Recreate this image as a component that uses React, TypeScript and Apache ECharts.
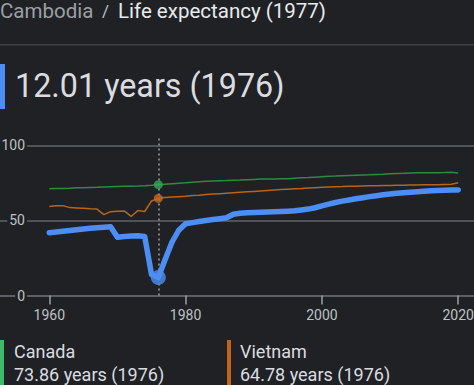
import React, { useEffect, useRef } from "react";
import * as echarts from "echarts";

const years: number[] = Array.from({ length: 61 }, (_, i) => 1960 + i);

const cambodia: number[] = [
  41.8, 42.3, 42.8, 43.3, 43.8, 44.3, 44.8, 45.2, 45.5, 45.9,
  38.8, 39.3, 39.6, 39.8, 39.4, 14.0, 12.01, 24.0, 35.5, 43.5,
  47.8, 48.6, 49.3, 50.0, 50.6, 51.2, 51.8, 54.2, 54.8, 55.1,
  55.3, 55.5, 55.6, 55.8, 56.0, 56.2, 56.5, 57.0, 57.6, 58.5,
  59.7, 60.9, 62.0, 62.9, 63.7, 64.5, 65.2, 65.9, 66.5, 67.1,
  67.6, 68.1, 68.5, 68.9, 69.2, 69.5, 69.8, 70.0, 70.2, 70.3,
  70.4,
];

const canada: number[] = [
  71.1, 71.3, 71.4, 71.5, 71.8, 71.9, 72.0, 72.1, 72.3, 72.5,
  72.7, 72.9, 72.9, 73.0, 73.2, 73.5, 73.86, 74.2, 74.5, 74.8,
  75.1, 75.5, 75.8, 76.1, 76.4, 76.5, 76.6, 76.9, 77.0, 77.2,
  77.4, 77.6, 77.7, 77.7, 77.9, 77.9, 78.2, 78.5, 78.6, 78.9,
  79.2, 79.5, 79.6, 79.8, 80.0, 80.2, 80.4, 80.5, 80.7, 80.9,
  81.2, 81.4, 81.5, 81.7, 81.8, 81.9, 81.9, 81.9, 82.0, 82.2,
  81.7,
];

const vietnam: number[] = [
  59.4, 59.8, 59.9, 58.6, 58.4, 58.1, 57.8, 57.6, 53.9, 55.9,
  56.2, 56.4, 52.7, 56.6, 56.0, 63.0, 64.78, 65.3, 65.6, 65.9,
  66.2, 66.6, 66.9, 67.3, 67.6, 67.9, 68.2, 68.5, 68.8, 69.1,
  69.4, 69.7, 70.0, 70.3, 70.6, 70.9, 71.2, 71.4, 71.7, 71.9,
  72.1, 72.3, 72.5, 72.6, 72.8, 72.9, 73.0, 73.1, 73.2, 73.3,
  73.4, 73.5, 73.5, 73.6, 73.7, 73.8, 73.8, 73.9, 74.0, 74.1,
  75.2,
];

const xTickLabels: number[] = [1960, 1980, 2000, 2020];
const yTicks: number[] = [0, 50, 100];
const selectedYear = 1976;
const titleYear = 1977;

const BG = "#202124";
const FONT = "Roboto";
const BLUE = "#4d8ef5";
const GREEN_LINE = "#2f8a45";
const GREEN_DOT = "#34a853";
const GREEN_BAR = "#3dba6a";
const ORANGE_LINE = "#b5651d";
const ORANGE_DOT = "#c8691c";
const ORANGE_BAR = "#c0641c";

export default function App() {
  const ref = useRef<HTMLDivElement>(null);

  useEffect(() => {
    if (!ref.current) return;
    const chart = echarts.init(ref.current, undefined, { renderer: "svg" });
    const idx = years.indexOf(selectedYear);
    const pair = (arr: number[]) => years.map((y, i) => [y, arr[i]]);
    const fmt = (v: number) => v.toFixed(2);

    chart.setOption({
      animation: false,
      backgroundColor: BG,
      textStyle: { fontFamily: FONT },
      grid: {
        left: 0,
        right: 0,
        top: 136,
        bottom: 89.5,
        containLabel: false,
        outerBoundsMode: "none",
      },
      xAxis: {
        type: "value",
        min: 1952.77,
        max: 2022.32,
        splitLine: { show: false },
        axisLine: { show: true, lineStyle: { color: "#5f6368", width: 1.5 } },
        axisTick: {
          show: true,
          customValues: xTickLabels,
          length: 9,
          lineStyle: { color: "#9aa0a6", width: 1.5 },
        },
        axisLabel: {
          customValues: xTickLabels,
          formatter: (v: number) => String(Math.round(v)),
          color: "#bdc1c6",
          fontSize: 14,
          fontFamily: FONT,
          margin: 12,
        },
      },
      yAxis: {
        type: "value",
        min: 0,
        max: 106.33,
        interval: 50,
        axisLine: { show: false },
        axisTick: { show: false },
        splitLine: {
          show: true,
          showMaxLine: false,
          lineStyle: { color: "#5f6368", width: 1.5 },
        },
        axisLabel: {
          customValues: yTicks,
          formatter: (v: number) => String(Math.round(v)),
          inside: true,
          align: "right",
          margin: 27,
          color: "#bdc1c6",
          fontSize: 14,
          fontFamily: FONT,
          backgroundColor: BG,
          padding: [0, 2, 0, 2],
        },
      },
      series: [
        {
          type: "line",
          data: pair(canada),
          showSymbol: false,
          lineStyle: { color: GREEN_LINE, width: 1.5 },
          z: 2,
        },
        {
          type: "line",
          data: pair(vietnam),
          showSymbol: false,
          lineStyle: { color: ORANGE_LINE, width: 1.5 },
          z: 3,
        },
        {
          type: "line",
          data: pair(cambodia),
          showSymbol: false,
          lineStyle: { color: BLUE, width: 5.5, cap: "round", join: "round" },
          z: 4,
        },
        {
          type: "scatter",
          z: 5,
          data: [
            { value: [selectedYear, canada[idx]], symbolSize: 9, itemStyle: { color: GREEN_DOT } },
            { value: [selectedYear, vietnam[idx]], symbolSize: 9, itemStyle: { color: ORANGE_DOT } },
            { value: [selectedYear, cambodia[idx]], symbolSize: 15, itemStyle: { color: BLUE } },
          ],
          markLine: {
            silent: true,
            symbol: "none",
            label: { show: false },
            lineStyle: { color: "#9aa0a6", type: [2, 3], width: 1.5 },
            data: [{ xAxis: selectedYear }],
            z: 1,
          },
        },
      ],
      graphic: [
        {
          type: "text",
          x: 0,
          y: 11,
          style: { text: "Cambodia", fill: "#9aa0a6", fontSize: 20.5, fontFamily: FONT, verticalAlign: "middle" },
        },
        {
          type: "text",
          x: 102,
          y: 11,
          style: { text: "/", fill: "#bdc1c6", fontSize: 17, fontFamily: FONT, verticalAlign: "middle" },
        },
        {
          type: "text",
          x: 118,
          y: 11,
          style: {
            text: `Life expectancy (${titleYear})`,
            fill: "#e8eaed",
            fontSize: 20.5,
            fontFamily: FONT,
            verticalAlign: "middle",
          },
        },
        {
          type: "rect",
          shape: { x: 0, y: 44, width: 474, height: 1.5 },
          style: { fill: "#3c4043" },
        },
        {
          type: "rect",
          shape: { x: 0, y: 64, width: 5, height: 45 },
          style: { fill: BLUE },
        },
        {
          type: "text",
          x: 15,
          y: 86,
          style: {
            text: `${fmt(cambodia[idx])} years (${selectedYear})`,
            fill: "#dadce0",
            fontSize: 32.3,
            fontFamily: FONT,
            verticalAlign: "middle",
          },
        },
        {
          type: "rect",
          shape: { x: 0, y: 340, width: 4, height: 45 },
          style: { fill: GREEN_BAR },
        },
        {
          type: "text",
          x: 14,
          y: 351,
          style: { text: "Canada", fill: "#dadce0", fontSize: 18, fontFamily: FONT, verticalAlign: "middle" },
        },
        {
          type: "text",
          x: 14,
          y: 374,
          style: {
            text: `${fmt(canada[idx])} years (${selectedYear})`,
            fill: "#dadce0",
            fontSize: 18,
            fontFamily: FONT,
            verticalAlign: "middle",
          },
        },
        {
          type: "rect",
          shape: { x: 227, y: 340, width: 4, height: 45 },
          style: { fill: ORANGE_BAR },
        },
        {
          type: "text",
          x: 240,
          y: 351,
          style: { text: "Vietnam", fill: "#dadce0", fontSize: 18, fontFamily: FONT, verticalAlign: "middle" },
        },
        {
          type: "text",
          x: 240,
          y: 374,
          style: {
            text: `${fmt(vietnam[idx])} years (${selectedYear})`,
            fill: "#dadce0",
            fontSize: 18,
            fontFamily: FONT,
            verticalAlign: "middle",
          },
        },
      ],
    });

    return () => chart.dispose();
  }, []);

  return (
    <div
      ref={ref}
      style={{ position: "fixed", left: 0, top: 0, width: 474, height: 385, background: BG }}
    />
  );
}
